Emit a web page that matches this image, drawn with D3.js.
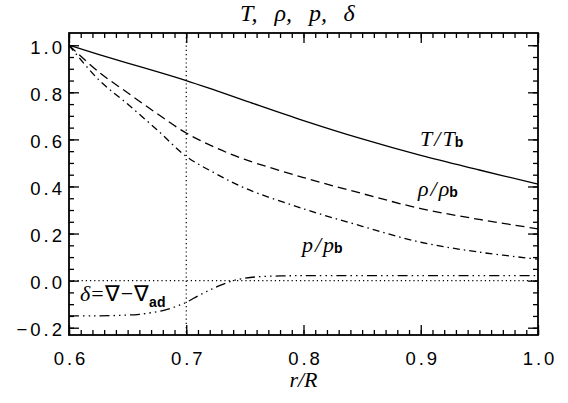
<!DOCTYPE html>
<html>
<head>
    <meta charset="utf-8">
    <title>T, rho, p, delta</title>
    <script src="https://d3js.org/d3.v7.min.js"></script>
    <style>
        body, html {
            margin: 0;
            padding: 0;
            background: #fff;
        }
        svg {
            display: block;
        }
        .domain {
            display: none;
        }
        .tick line {
            stroke: #000;
            stroke-width: 1.3px;
        }
        .tick text {
            font-family: "Liberation Sans", Arial, sans-serif;
            font-size: 18.5px;
            letter-spacing: 3px;
            fill: #000;
        }
        .math {
            font-family: "Liberation Serif", "Times New Roman", serif;
            font-style: italic;
            font-size: 22px;
            fill: #000;
        }
        .sub {
            font-family: "Liberation Sans", Arial, sans-serif;
            font-style: normal;
            font-weight: bold;
            font-size: 14px;
        }
        .curve {
            fill: none;
            stroke: #000;
            stroke-width: 1.3px;
        }
    </style>
</head>
<body>
    <svg width="568" height="403"></svg>

    <script>
        // profiles normalised to the base values (r/R = 0.6)
        const radius    = [0.600, 0.625, 0.650, 0.675, 0.700, 0.725, 0.750, 0.800, 0.850, 0.900, 0.950, 1.000];
        const tempRatio = [1.000, 0.961, 0.924, 0.888, 0.850, 0.808, 0.765, 0.680, 0.602, 0.532, 0.470, 0.410];
        const densRatio = [1.000, 0.888, 0.798, 0.710, 0.627, 0.565, 0.515, 0.438, 0.370, 0.306, 0.260, 0.220];
        const presRatio = [1.000, 0.855, 0.750, 0.641, 0.528, 0.455, 0.393, 0.305, 0.231, 0.163, 0.121, 0.091];

        // superadiabaticity delta = nabla - nabla_ad
        const deltaRadius = [0.60, 0.62, 0.64, 0.66, 0.68, 0.69, 0.70, 0.71, 0.72, 0.73, 0.74, 0.75, 0.76, 0.78, 0.80, 0.90, 1.00];
        const delta       = [-0.150, -0.150, -0.148, -0.143, -0.127, -0.112, -0.092, -0.065, -0.040, -0.018, 0.000, 0.010, 0.016, 0.020, 0.021, 0.021, 0.021];

        // axis ticks
        const xMajor = [0.6, 0.7, 0.8, 0.9, 1.0];
        const yMajor = [-0.2, 0.0, 0.2, 0.4, 0.6, 0.8, 1.0];
        const xMinor = d3.range(60, 101).map(d => d / 100);
        const yMinor = d3.range(-4, 21).map(d => d / 20);

        // title pieces
        const titleParts = ["T,", "ρ,", "p,", "δ"];

        const width = 568, height = 403;
        const margin = {top: 33, right: 30, bottom: 68, left: 69};
        const innerW = width - margin.left - margin.right;
        const innerH = height - margin.top - margin.bottom;

        const svg = d3.select("svg");
        const g = svg.append("g")
            .attr("transform", `translate(${margin.left},${margin.top})`);

        const x = d3.scaleLinear().domain([0.6, 1.0]).range([0, innerW]);
        const y = d3.scaleLinear().domain([-0.231, 1.052]).range([innerH, 0]);

        // ticks on all four sides, pointing inwards
        function addAxis(axis, tx, ty) {
            return g.append("g")
                .attr("transform", `translate(${tx},${ty})`)
                .call(axis);
        }
        const fmt = d3.format(".1f");
        addAxis(d3.axisBottom(x).tickValues(xMinor).tickSize(-5).tickFormat(""), 0, innerH);
        addAxis(d3.axisBottom(x).tickValues(xMajor).tickSize(-10).tickPadding(17).tickFormat(fmt), 0, innerH)
            .selectAll("text").attr("dx", 1.5);
        addAxis(d3.axisTop(x).tickValues(xMinor).tickSize(-5).tickFormat(""), 0, 0);
        addAxis(d3.axisTop(x).tickValues(xMajor).tickSize(-10).tickFormat(""), 0, 0);
        addAxis(d3.axisLeft(y).tickValues(yMinor).tickSize(-5).tickFormat(""), 0, 0);
        addAxis(d3.axisLeft(y).tickValues(yMajor).tickSize(-10).tickPadding(4).tickFormat(fmt), 0, 0)
            .selectAll("text").attr("dy", "0.42em");
        addAxis(d3.axisRight(y).tickValues(yMinor).tickSize(-5).tickFormat(""), innerW, 0);
        addAxis(d3.axisRight(y).tickValues(yMajor).tickSize(-10).tickFormat(""), innerW, 0);

        // reference lines: zero and base of convection zone
        g.append("line")
            .attr("x1", x(0.6)).attr("x2", x(1.0))
            .attr("y1", y(0)).attr("y2", y(0))
            .attr("stroke", "#000").attr("stroke-width", 1.2)
            .attr("stroke-dasharray", "1.2,3");
        g.append("line")
            .attr("x1", x(0.7)).attr("x2", x(0.7))
            .attr("y1", 0).attr("y2", innerH)
            .attr("stroke", "#000").attr("stroke-width", 1.2)
            .attr("stroke-dasharray", "1.2,3");

        const line = d3.line()
            .x(d => x(d[0]))
            .y(d => y(d[1]))
            .curve(d3.curveCatmullRom.alpha(0.5));

        const series = [
            {values: tempRatio, dash: null},
            {values: densRatio, dash: "9,5"},
            {values: presRatio, dash: "7,4,1.5,4"}
        ];
        series.forEach(s => {
            g.append("path")
                .attr("class", "curve")
                .attr("d", line(radius.map((r, i) => [r, s.values[i]])))
                .attr("stroke-dasharray", s.dash);
        });
        g.append("path")
            .attr("class", "curve")
            .attr("d", line(deltaRadius.map((r, i) => [r, delta[i]])))
            .attr("stroke-dasharray", "10,4,1.5,4,1.5,4,1.5,4");

        // frame
        g.append("rect")
            .attr("width", innerW).attr("height", innerH)
            .attr("fill", "none").attr("stroke", "#000").attr("stroke-width", 1.8);

        // curve labels
        function ratioLabel(sym, lx, ly) {
            const t = g.append("text").attr("class", "math")
                .attr("x", x(lx)).attr("y", y(ly));
            t.append("tspan").text(sym);
            t.append("tspan").text("/").attr("dx", 2);
            t.append("tspan").text(sym).attr("dx", 2);
            t.append("tspan").attr("class", "sub").attr("dy", 1).text("b");
        }
        ratioLabel("T", 0.8994, 0.572);
        ratioLabel("ρ", 0.8977, 0.36);
        ratioLabel("p", 0.7987, 0.122);

        const dl = g.append("text").attr("class", "math")
            .attr("x", x(0.6094)).attr("y", y(-0.086));
        dl.append("tspan").text("δ");
        dl.append("tspan").attr("font-style", "normal").attr("dx", 1).text("=");
        dl.append("tspan").attr("font-style", "normal").attr("dx", 1).text("∇");
        dl.append("tspan").attr("font-style", "normal").attr("dx", 1).text("−");
        dl.append("tspan").attr("font-style", "normal").attr("dx", 1).text("∇");
        dl.append("tspan").attr("class", "sub").attr("dy", 6).text("ad");

        // title, spread out like the original
        const title = svg.append("text").attr("class", "math")
            .attr("y", 21)
            .style("font-size", "24px");
        title.selectAll("tspan")
            .data(titleParts)
            .enter().append("tspan")
            .attr("x", (d, i) => 240 + i * 34.5)
            .text(d => d);

        svg.append("text").attr("class", "math")
            .attr("x", margin.left + x(0.8)).attr("y", 387)
            .attr("text-anchor", "middle")
            .text("r/R");
    </script>
</body>
</html>
